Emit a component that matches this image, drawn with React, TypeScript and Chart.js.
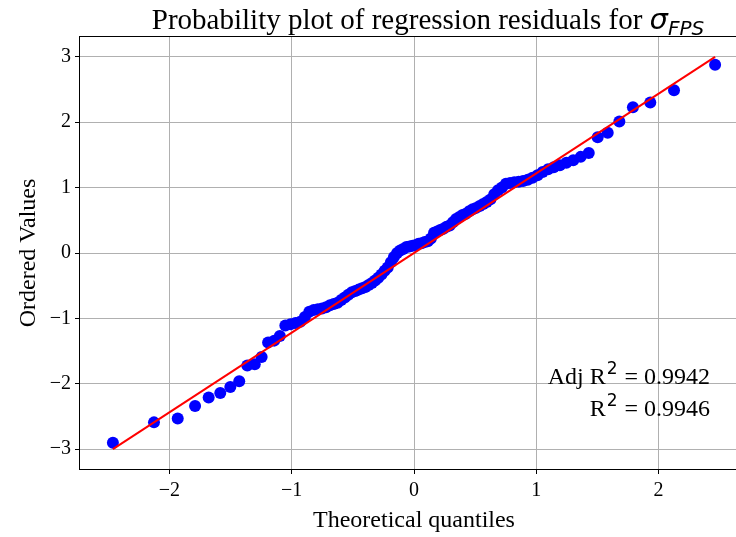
import React, { useEffect, useRef } from "react";
import { Chart, registerables } from "chart.js";

Chart.register(...registerables);

// Theoretical normal quantiles (n = 100)
const quantiles = [
  -2.462, -2.126, -1.932, -1.79, -1.679, -1.584, -1.502, -1.429, -1.363, -1.302,
  -1.246, -1.193, -1.143, -1.097, -1.052, -1.01, -0.969, -0.93, -0.892, -0.856,
  -0.82, -0.786, -0.752, -0.719, -0.687, -0.656, -0.625, -0.595, -0.566, -0.537,
  -0.508, -0.48, -0.452, -0.424, -0.397, -0.371, -0.344, -0.318, -0.292, -0.266,
  -0.24, -0.215, -0.189, -0.164, -0.138, -0.113, -0.088, -0.062, -0.037, -0.012,
  0.012, 0.037, 0.062, 0.088, 0.113, 0.138, 0.164, 0.189, 0.215, 0.24,
  0.266, 0.292, 0.318, 0.344, 0.371, 0.397, 0.424, 0.452, 0.48, 0.508,
  0.537, 0.566, 0.595, 0.625, 0.656, 0.687, 0.719, 0.752, 0.786, 0.82,
  0.856, 0.892, 0.93, 0.969, 1.01, 1.052, 1.097, 1.143, 1.193, 1.246,
  1.302, 1.363, 1.429, 1.502, 1.584, 1.679, 1.79, 1.932, 2.126, 2.462,
];

// Ordered residual values
const orderedValues = [
  -2.9, -2.59, -2.53, -2.34, -2.21, -2.14, -2.05, -1.96, -1.72, -1.7,
  -1.59, -1.37, -1.34, -1.27, -1.11, -1.09, -1.07, -1.05, -0.98, -0.9,
  -0.87, -0.86, -0.85, -0.83, -0.8, -0.78, -0.76, -0.72, -0.68, -0.64,
  -0.6, -0.58, -0.56, -0.54, -0.52, -0.49, -0.46, -0.42, -0.38, -0.33,
  -0.27, -0.22, -0.14, -0.06, 0.0, 0.04, 0.06, 0.09, 0.1, 0.11,
  0.12, 0.14, 0.15, 0.17, 0.18, 0.22, 0.31, 0.33, 0.35, 0.37,
  0.4, 0.42, 0.47, 0.52, 0.55, 0.58, 0.6, 0.64, 0.67, 0.69,
  0.72, 0.75, 0.78, 0.82, 0.9, 0.96, 1.0, 1.06, 1.07, 1.08,
  1.09, 1.1, 1.12, 1.15, 1.19, 1.24, 1.28, 1.31, 1.34, 1.38,
  1.42, 1.47, 1.53, 1.77, 1.84, 2.01, 2.23, 2.3, 2.49, 2.88,
];

// Fitted line end points
const fitX = [-2.462, 2.462];
const fitY = [-3.0, 3.0];

const xTicks = [-2, -1, 0, 1, 2];
const yTicks = [-3, -2, -1, 0, 1, 2, 3];
const xRange = [-2.731, 2.731];
const yRange = [-3.303, 3.303];

const titleMain = "Probability plot of regression residuals for ";
const titleSymbol = "σ";
const titleSub = "FPS";
const xLabel = "Theoretical quantiles";
const yLabel = "Ordered Values";
const statLabels = ["Adj R", "R"];
const statSup = ["2", "2"];
const statValues = [" = 0.9942", " = 0.9946"];

const SERIF = "'Liberation Serif', 'Times New Roman', serif";
const SANS = "'DejaVu Sans', sans-serif";

const fmt = (v: number) => (v < 0 ? "\u2212" + Math.abs(v) : String(v));

const overlayPlugin = {
  id: "overlay",
  afterDraw(chart: any) {
    const ctx = chart.ctx as CanvasRenderingContext2D;
    const { left, right, top, bottom } = chart.chartArea;
    ctx.save();
    // frame
    ctx.strokeStyle = "#000";
    ctx.lineWidth = 1;
    ctx.strokeRect(Math.round(left) - 0.5, Math.round(top) - 0.5, Math.round(right - left) + 1, Math.round(bottom - top) + 1);

    // title
    ctx.fillStyle = "#000";
    ctx.textBaseline = "alphabetic";
    ctx.textAlign = "left";
    const mainFont = `29px ${SERIF}`;
    const symFont = `italic 29px ${SANS}`;
    const subFont = `italic 20px ${SANS}`;
    ctx.font = mainFont;
    const w1 = ctx.measureText(titleMain).width;
    ctx.font = symFont;
    const w2 = ctx.measureText(titleSymbol).width;
    ctx.font = subFont;
    const w3 = ctx.measureText(titleSub).width;
    const cx = (left + right) / 2 + 14;
    let x = cx - (w1 + w2 + w3) / 2;
    const base = 29;
    ctx.font = mainFont;
    ctx.fillText(titleMain, x, base);
    x += w1;
    ctx.font = symFont;
    ctx.fillText(titleSymbol, x, base);
    x += w2;
    ctx.font = subFont;
    ctx.fillText(titleSub, x, base + 6);

    // statistics text, right aligned
    const anchorX = 710;
    const baselines = [384, 416];
    const tFont = `24px ${SERIF}`;
    const sFont = `17px ${SANS}`;
    for (let i = 0; i < statLabels.length; i++) {
      ctx.font = tFont;
      const a = ctx.measureText(statLabels[i]).width;
      const c = ctx.measureText(statValues[i]).width;
      ctx.font = sFont;
      const b = ctx.measureText(statSup[i]).width + 2;
      let sx = anchorX - (a + b + c);
      ctx.font = tFont;
      ctx.fillText(statLabels[i], sx, baselines[i]);
      sx += a;
      ctx.font = sFont;
      ctx.fillText(statSup[i], sx + 1, baselines[i] - 10);
      sx += b;
      ctx.font = tFont;
      ctx.fillText(statValues[i], sx, baselines[i]);
    }
    ctx.restore();
  },
};

export default function App() {
  const ref = useRef<HTMLCanvasElement | null>(null);

  useEffect(() => {
    if (!ref.current) return;
    const points = quantiles.map((q, i) => ({ x: q, y: orderedValues[i] }));
    const fit = fitX.map((fx, i) => ({ x: fx, y: fitY[i] }));
    const chart = new Chart(ref.current, {
      type: "scatter",
      data: {
        datasets: [
          {
            label: "fit",
            data: fit,
            showLine: true,
            borderColor: "#ff0000",
            borderWidth: 2,
            pointRadius: 0,
            order: 0,
          },
          {
            label: "data",
            data: points,
            backgroundColor: "#0000ff",
            borderWidth: 0,
            pointRadius: 6,
            pointBorderWidth: 0,
            order: 1,
          },
        ],
      },
      options: {
        responsive: false,
        animation: false,
        devicePixelRatio: 1,
        layout: { padding: { top: 37, right: 12, left: 0, bottom: 0 } },
        plugins: {
          legend: { display: false },
          tooltip: { enabled: false },
          title: { display: false },
        },
        scales: {
          x: {
            type: "linear",
            min: xRange[0],
            max: xRange[1],
            afterBuildTicks: (s: any) => {
              s.ticks = xTicks.map((v) => ({ value: v }));
            },
            afterFit: (s: any) => {
              s.height = 68;
            },
            border: { display: false },
            grid: { color: "#b0b0b0", lineWidth: 1, tickColor: "#000", tickLength: 5, drawTicks: true },
            ticks: {
              color: "#000",
              font: { family: SERIF, size: 20 },
              padding: 5,
              maxRotation: 0,
              autoSkip: false,
              callback: (v: any) => fmt(Number(v)),
            },
            title: {
              display: true,
              text: xLabel,
              color: "#000",
              font: { family: SERIF, size: 24 },
              padding: { top: 0, bottom: 2 },
            },
          },
          y: {
            type: "linear",
            min: yRange[0],
            max: yRange[1],
            afterBuildTicks: (s: any) => {
              s.ticks = yTicks.map((v) => ({ value: v }));
            },
            afterFit: (s: any) => {
              s.width = 80;
            },
            border: { display: false },
            grid: { color: "#b0b0b0", lineWidth: 1, tickColor: "#000", tickLength: 5, drawTicks: true },
            ticks: {
              color: "#000",
              font: { family: SERIF, size: 20 },
              padding: 4,
              autoSkip: false,
              callback: (v: any) => fmt(Number(v)),
            },
            title: {
              display: true,
              text: yLabel,
              color: "#000",
              font: { family: SERIF, size: 24 },
              padding: { top: 14, bottom: 0 },
            },
          },
        },
      },
      plugins: [overlayPlugin],
    } as any);
    return () => chart.destroy();
  }, []);

  return (
    <div
      style={{
        position: "fixed",
        left: 0,
        top: 0,
        width: 736,
        height: 537,
        overflow: "hidden",
        background: "#fff",
      }}
    >
      <canvas ref={ref} width={760} height={537} style={{ display: "block" }} />
    </div>
  );
}
